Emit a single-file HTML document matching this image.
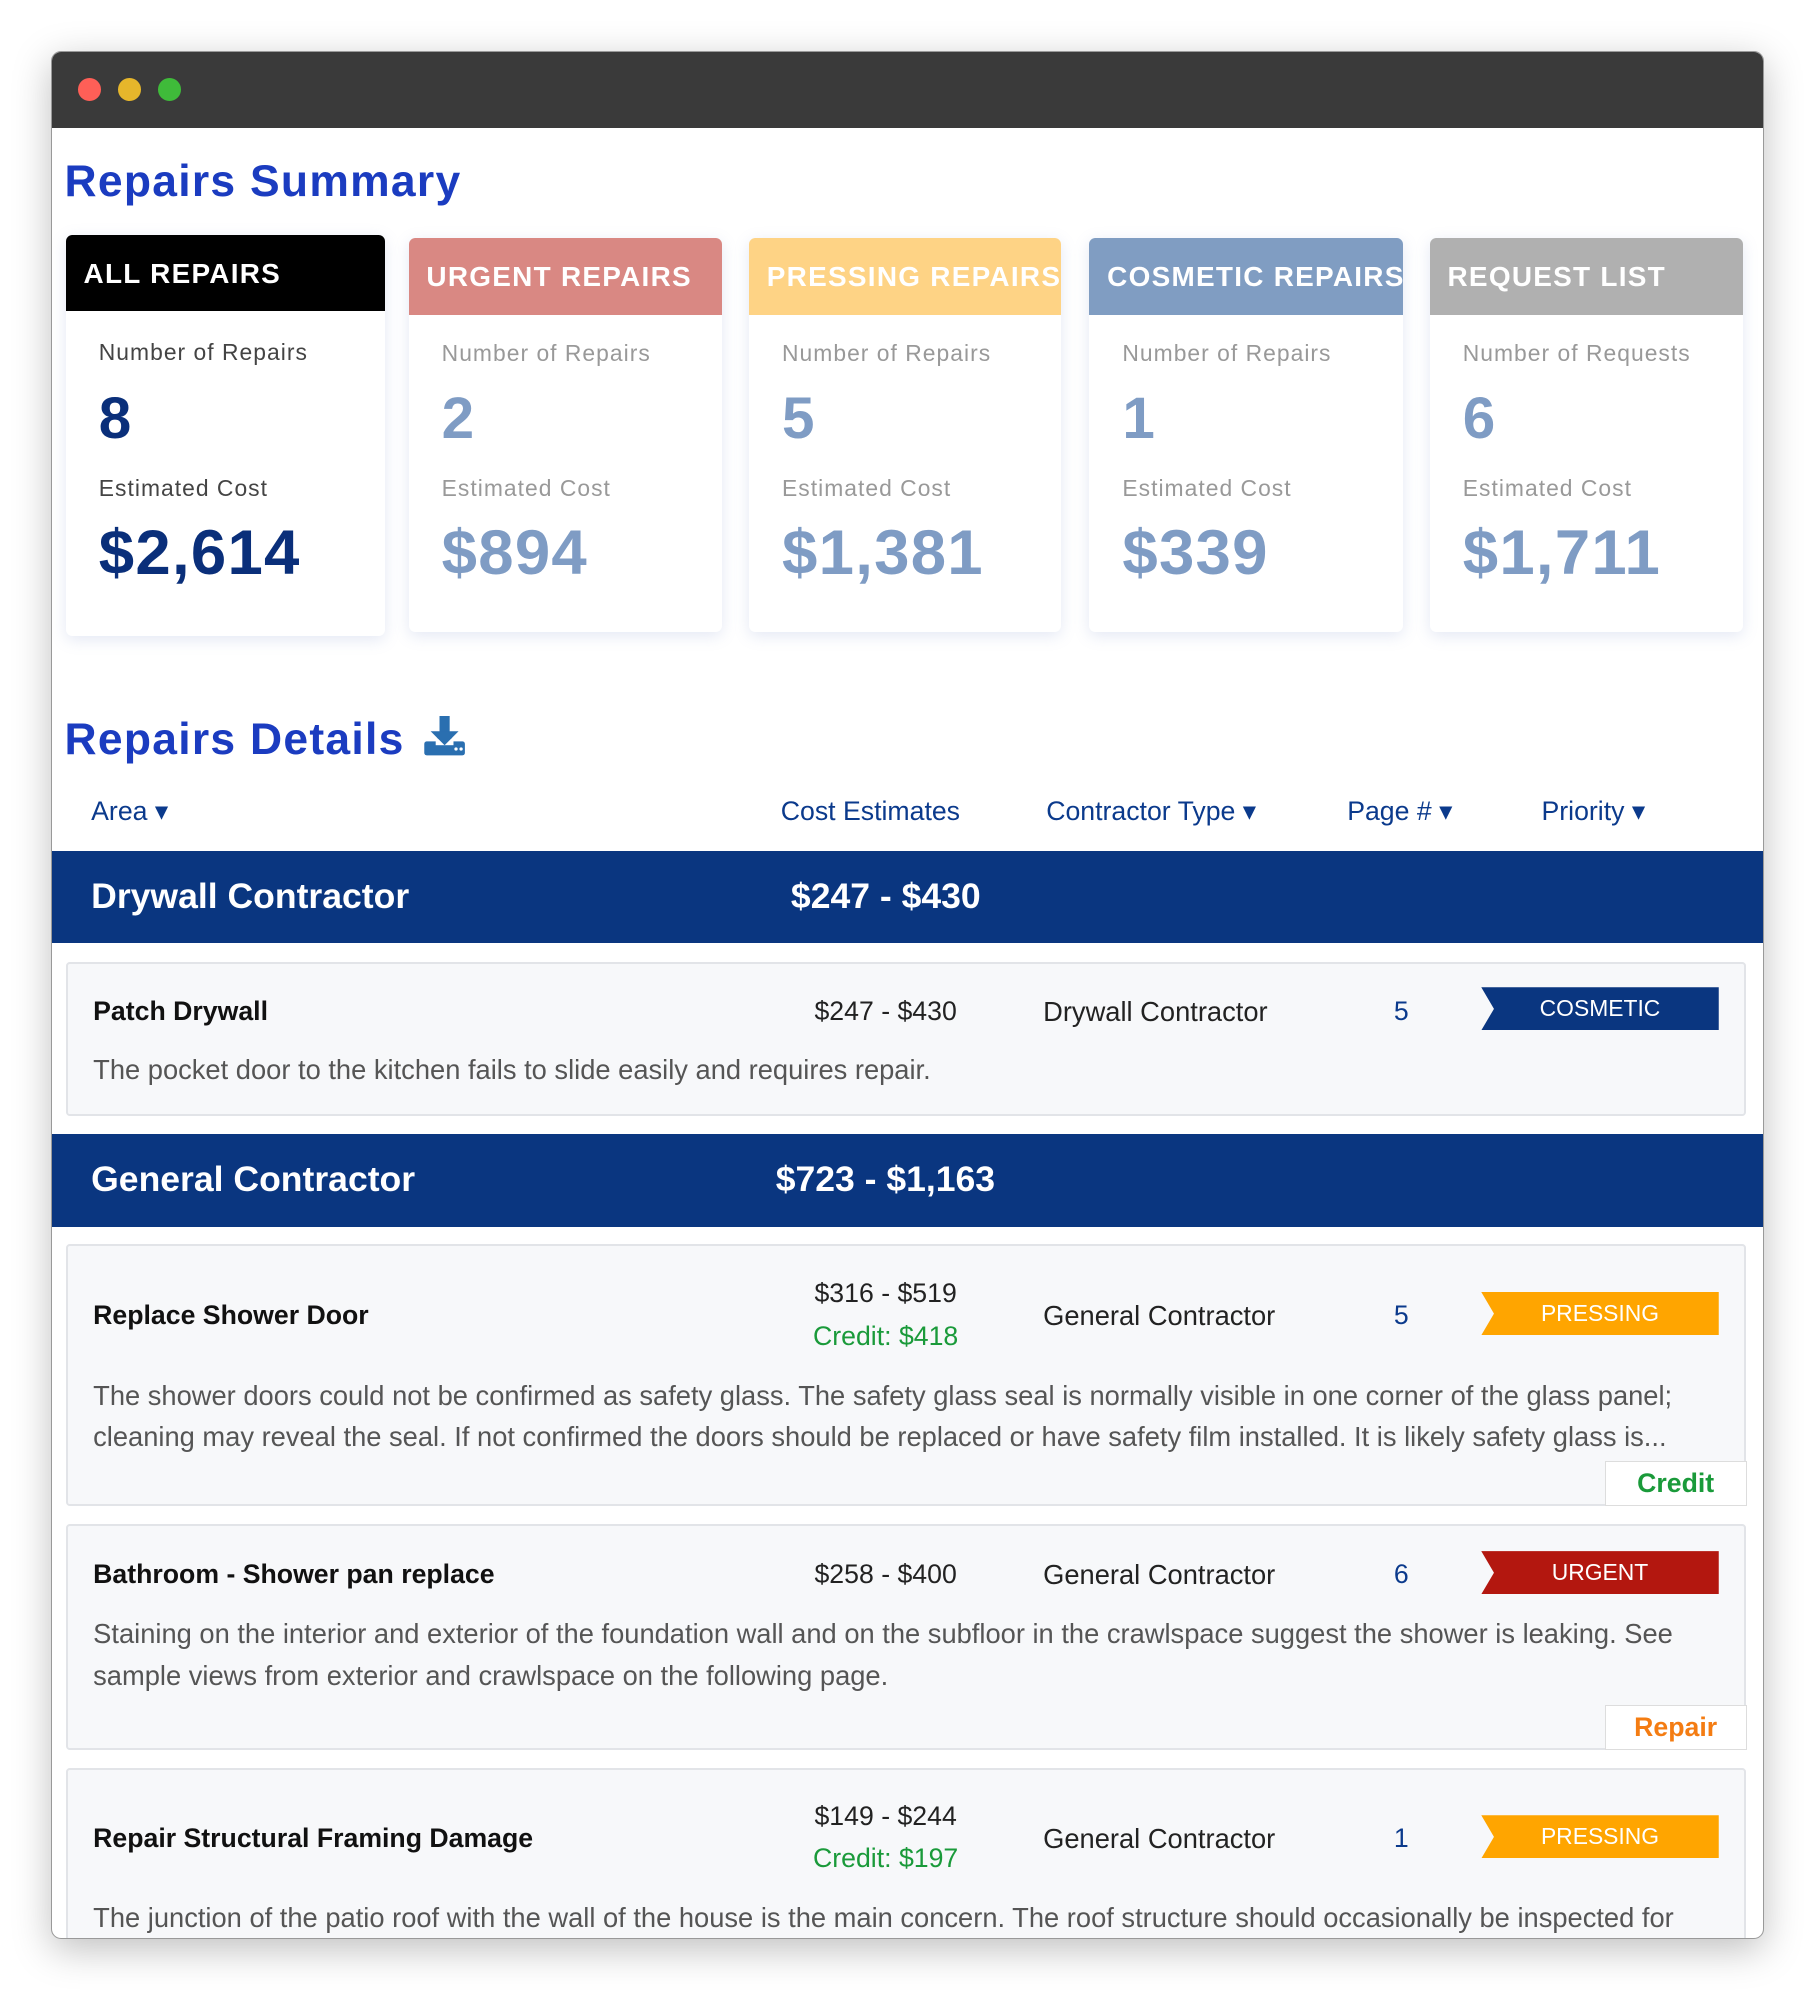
<!DOCTYPE html>
<html><head><meta charset="utf-8"><style>
html,body{margin:0;padding:0;background:#fff;}
body{width:1816px;height:1992px;overflow:hidden;font-family:"Liberation Sans",sans-serif;}
#z{zoom:1.27;position:relative;width:1430px;height:1568px;}
.abs{position:absolute;}
.win{left:40px;top:40px;width:1349px;height:1487px;background:#fff;border-radius:8px;overflow:hidden;box-shadow:0 8px 30px rgba(0,0,0,.25);border:1px solid #999;box-sizing:border-box;}
.tb{left:0;top:0;width:100%;height:60px;background:#3a3a3a;}
.dot{width:18px;height:18px;border-radius:50%;top:21px;}
.h1{color:#1b3cc0;font-weight:bold;font-size:35px;letter-spacing:1px;}
.card{background:#fff;border-radius:5px;box-shadow:0 3px 12px rgba(120,140,200,.2);overflow:hidden;}
.ch{position:absolute;left:0;top:0;width:100%;height:60px;color:#fff;font-weight:bold;font-size:22px;letter-spacing:1px;line-height:62px;padding-left:14px;box-sizing:border-box;white-space:nowrap;}
.lbl{position:absolute;left:26px;font-size:18px;letter-spacing:.8px;color:#999;}
.num{position:absolute;left:26px;font-size:46px;font-weight:bold;color:#7f9cc4;}
.cost{position:absolute;left:26px;font-size:50px;font-weight:bold;color:#7f9cc4;letter-spacing:1px;}
.col{color:#0b3a8c;font-size:21px;top:586px;}
.bar{left:0;width:100%;height:73px;background:#0a3680;color:#fff;font-weight:bold;font-size:28px;}
.item{left:11px;width:1323px;background:#f7f8fa;border:2px solid #e2e4e8;border-radius:3px;box-sizing:border-box;}
.t{position:absolute;left:20px;font-weight:bold;font-size:21px;color:#111;}
.c{position:absolute;left:544px;width:200px;text-align:center;font-size:21px;color:#222;}
.g{color:#1a9a3a;}
.ct{position:absolute;left:768px;font-size:21.5px;color:#222;}
.pg{position:absolute;left:1040px;width:20px;text-align:center;font-size:21px;color:#0b3a8c;}
.bd{position:absolute;left:1113px;width:187px;height:34px;line-height:34px;text-align:center;color:#fff;font-size:18px;clip-path:polygon(0 0,100% 0,100% 100%,0 100%,10px 50%);}
.d{position:absolute;left:20px;right:30px;font-size:21.5px;color:#555;line-height:33px;}
.btn{position:absolute;right:-2px;width:110px;height:34px;border:1px solid #ddd;background:#fff;text-align:center;line-height:34px;font-size:21px;font-weight:bold;}
</style></head><body><div id="z">
<div class="abs win">
 <div class="abs tb"></div>
 <div class="abs dot" style="left:21px;background:#fe5f57"></div>
 <div class="abs dot" style="left:52px;background:#e6b62b"></div>
 <div class="abs dot" style="left:84px;background:#3fbb3a"></div>

 <div class="abs h1" style="left:10px;top:83px">Repairs Summary</div>

 <div class="abs card" style="left:11px;top:144px;width:251px;height:316px">
  <div class="ch" style="background:#000">ALL REPAIRS</div>
  <div class="lbl" style="top:82px;color:#444">Number of Repairs</div>
  <div class="num" style="top:118px;color:#0a2f7a">8</div>
  <div class="lbl" style="top:189px;color:#444">Estimated Cost</div>
  <div class="cost" style="top:222px;color:#0a2f7a">$2,614</div>
 </div>
 <div class="abs card" style="left:281px;top:147px;width:247px;height:310px">
  <div class="ch" style="background:#d98883">URGENT REPAIRS</div>
  <div class="lbl" style="top:80px">Number of Repairs</div><div class="num" style="top:115px">2</div>
  <div class="lbl" style="top:186px">Estimated Cost</div><div class="cost" style="top:219px">$894</div>
 </div>
 <div class="abs card" style="left:549px;top:147px;width:246px;height:310px">
  <div class="ch" style="background:#fed385">PRESSING REPAIRS</div>
  <div class="lbl" style="top:80px">Number of Repairs</div><div class="num" style="top:115px">5</div>
  <div class="lbl" style="top:186px">Estimated Cost</div><div class="cost" style="top:219px">$1,381</div>
 </div>
 <div class="abs card" style="left:817px;top:147px;width:247px;height:310px">
  <div class="ch" style="background:#809dc2">COSMETIC REPAIRS</div>
  <div class="lbl" style="top:80px">Number of Repairs</div><div class="num" style="top:115px">1</div>
  <div class="lbl" style="top:186px">Estimated Cost</div><div class="cost" style="top:219px">$339</div>
 </div>
 <div class="abs card" style="left:1085px;top:147px;width:247px;height:310px">
  <div class="ch" style="background:#b0b0b0">REQUEST LIST</div>
  <div class="lbl" style="top:80px">Number of Requests</div><div class="num" style="top:115px">6</div>
  <div class="lbl" style="top:186px">Estimated Cost</div><div class="cost" style="top:219px">$1,711</div>
 </div>

 <div class="abs h1" style="left:10px;top:522px">Repairs Details</div>
 <svg class="abs" style="left:292px;top:523px" width="34" height="32" viewBox="0 0 34 32"><rect x="13" y="0" width="8" height="14" fill="#2a6fb0"/><polygon points="6,12 28,12 17,23" fill="#2a6fb0"/><rect x="1" y="20" width="32" height="11" rx="2" fill="#2a6fb0"/><rect x="10" y="18" width="14" height="5" fill="#fff"/><polygon points="11,17 23,17 17,23" fill="#2a6fb0"/><circle cx="26" cy="26" r="1.3" fill="#fff"/><circle cx="30" cy="26" r="1.3" fill="#fff"/></svg>

 <div class="abs col" style="left:31px">Area ▾</div>
 <div class="abs col" style="left:574px">Cost Estimates</div>
 <div class="abs col" style="left:783px">Contractor Type ▾</div>
 <div class="abs col" style="left:1020px">Page # ▾</div>
 <div class="abs col" style="left:1173px">Priority ▾</div>

 <div class="abs bar" style="top:629px"><span class="abs" style="left:31px;top:20px">Drywall Contractor</span><span class="abs" style="left:582px;top:20px">$247 - $430</span></div>
 <div class="abs item" style="top:717px;height:121px">
  <div class="t" style="top:25px">Patch Drywall</div>
  <div class="c" style="top:25px">$247 - $430</div>
  <div class="ct" style="top:25px">Drywall Contractor</div>
  <div class="pg" style="top:25px">5</div>
  <div class="bd" style="top:18px;background:#0a3680">COSMETIC</div>
  <div class="d" style="top:67px">The pocket door to the kitchen fails to slide easily and requires repair.</div>
 </div>

 <div class="abs bar" style="top:852px"><span class="abs" style="left:31px;top:20px">General Contractor</span><span class="abs" style="left:570px;top:20px">$723 - $1,163</span></div>
 <div class="abs item" style="top:939px;height:206px">
  <div class="t" style="top:42px">Replace Shower Door</div>
  <div class="c" style="top:25px">$316 - $519</div>
  <div class="c g" style="top:59px">Credit: $418</div>
  <div class="ct" style="top:42px">General Contractor</div>
  <div class="pg" style="top:42px">5</div>
  <div class="bd" style="top:36px;background:#ffa500">PRESSING</div>
  <div class="d" style="top:101px">The shower doors could not be confirmed as safety glass. The safety glass seal is normally visible in one corner of the glass panel; cleaning may reveal the seal. If not confirmed the doors should be replaced or have safety film installed. It is likely safety glass is...</div>
  <div class="btn g" style="bottom:-2px">Credit</div>
 </div>
 <div class="abs item" style="top:1159px;height:178px">
  <div class="t" style="top:26px">Bathroom - Shower pan replace</div>
  <div class="c" style="top:26px">$258 - $400</div>
  <div class="ct" style="top:26px">General Contractor</div>
  <div class="pg" style="top:26px">6</div>
  <div class="bd" style="top:20px;background:#b3170f">URGENT</div>
  <div class="d" style="top:69px">Staining on the interior and exterior of the foundation wall and on the subfloor in the crawlspace suggest the shower is leaking. See sample views from exterior and crawlspace on the following page.</div>
  <div class="btn" style="bottom:-2px;color:#f47c12">Repair</div>
 </div>
 <div class="abs item" style="top:1351px;height:200px">
  <div class="t" style="top:42px">Repair Structural Framing Damage</div>
  <div class="c" style="top:25px">$149 - $244</div>
  <div class="c g" style="top:58px">Credit: $197</div>
  <div class="ct" style="top:42px">General Contractor</div>
  <div class="pg" style="top:42px">1</div>
  <div class="bd" style="top:36px;background:#ffa500">PRESSING</div>
  <div class="d" style="top:100px;white-space:nowrap;overflow:hidden">The junction of the patio roof with the wall of the house is the main concern. The roof structure should occasionally be inspected for</div>
 </div>
</div>
</div></body></html>
